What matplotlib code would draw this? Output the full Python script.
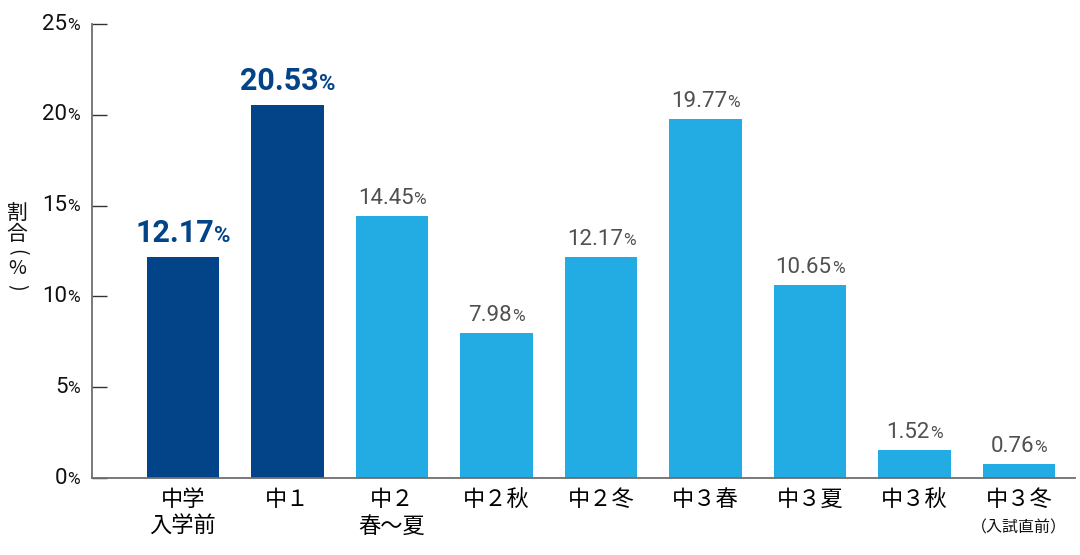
import matplotlib
matplotlib.use("Agg")
import matplotlib.pyplot as plt
from matplotlib.offsetbox import TextArea, HPacker, AnnotationBbox

categories = ["中学\n入学前", "中１", "中２\n春〜夏", "中２秋", "中２冬", "中３春", "中３夏", "中３秋", "中３冬"]
last_note = "（入試直前）"
values = [12.17, 20.53, 14.45, 7.98, 12.17, 19.77, 10.65, 1.52, 0.76]
highlight = [True, True, False, False, False, False, False, False, False]
yticks = [0, 5, 10, 15, 20, 25]
ylabel_chars = ["割", "合", "(", "%", ")"]

DARK = "#034387"
LIGHT = "#22ace3"
CJK = ["Noto Sans CJK JP", "DejaVu Sans"]
NUM = ["Roboto", "DejaVu Sans"]

fig = plt.figure(figsize=(10.8, 5.55), dpi=100)
ax = fig.add_axes([92/1080, 77/555, (1075-92)/1080, (478-24)/555])

x = list(range(len(values)))
colors = [DARK if h else LIGHT for h in highlight]
ax.bar(x, values, width=0.69, color=colors)
ax.set_xlim(-0.871, 8.536)
ax.set_ylim(0, 25)

for s in ["top", "right"]:
    ax.spines[s].set_visible(False)
for s in ["left", "bottom"]:
    ax.spines[s].set_color("#6e6e6e")
    ax.spines[s].set_linewidth(1.3)

ax.set_yticks(yticks)
ax.set_yticklabels([])
ax.tick_params(axis="y", direction="in", length=11, width=1.0, color="#333333")
ax.set_xticks(x)
ax.set_xticklabels(categories, fontfamily=CJK, fontsize=16, linespacing=1.22)
ax.tick_params(axis="x", length=0, pad=7)

# y tick labels: number + small %
for t in yticks:
    box = HPacker(children=[
        TextArea(str(t), textprops=dict(fontfamily=NUM, fontsize=16, color="#111111")),
        TextArea("%", textprops=dict(fontfamily=NUM, fontsize=12.5, color="#111111")),
    ], align="baseline", pad=0, sep=0)
    ab = AnnotationBbox(box, (0, t), xycoords=("axes fraction", "data"),
                        xybox=(-12, 0), boxcoords="offset pixels",
                        box_alignment=(1, 0.5), frameon=False, pad=0, annotation_clip=False)
    ax.add_artist(ab)

# bar value labels
for xi, v, h in zip(x, values, highlight):
    if h:
        tp_num = dict(fontfamily=NUM, fontsize=22, fontweight="bold", color=DARK)
        tp_pct = dict(fontfamily=NUM, fontsize=16, fontweight="bold", color=DARK)
        off = 9
    else:
        tp_num = dict(fontfamily=NUM, fontsize=16, color="#505050")
        tp_pct = dict(fontfamily=NUM, fontsize=12.5, color="#505050")
        off = 7
    box = HPacker(children=[TextArea(f"{v:.2f}", textprops=tp_num),
                            TextArea("%", textprops=tp_pct)],
                  align="baseline", pad=0, sep=0)
    ab = AnnotationBbox(box, (xi, v), xycoords="data",
                        xybox=(0, off), boxcoords="offset pixels",
                        box_alignment=(0.5, 0), frameon=False, pad=0, annotation_clip=False)
    ax.add_artist(ab)

# note under last category
ax.annotate(last_note, (x[-1], 0), xycoords="data", xytext=(0, -50),
            textcoords="offset pixels", ha="center", va="center",
            fontfamily=CJK, fontsize=11.5, color="#111111", annotation_clip=False)

# vertical y label (stacked characters, parentheses turned)
ypos = [213, 234, 252, 268, 287]
rots = [0, 0, -90, 0, -90]
sizes = [15, 15, 14, 14, 14]
for ch, yp, r, fs in zip(ylabel_chars, ypos, rots, sizes):
    fig.text(17/1080, 1 - yp/555, ch, ha="center", va="center", rotation=r,
             rotation_mode="anchor", fontfamily=CJK, fontsize=fs, color="#111111")

fig.savefig("out.png", dpi=100)
